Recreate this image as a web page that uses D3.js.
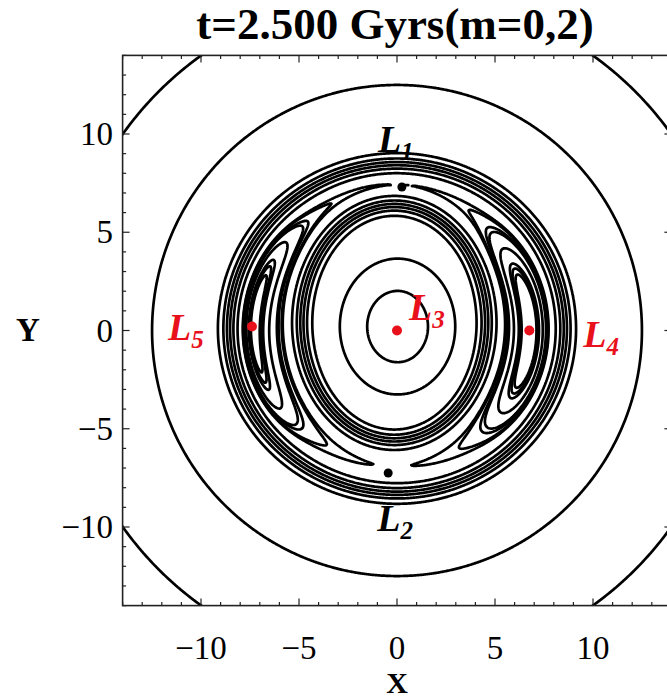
<!DOCTYPE html>
<html>
<head>
<meta charset="utf-8">
<script src="https://cdn.jsdelivr.net/npm/d3@7"></script>
<style>
  body { margin: 0; background: #fff; }
  svg { display: block; }
</style>
</head>
<body>
<svg id="chart" width="667" height="699"></svg>
<script>
// ---- axes ----
const xDomain = [-14, 14];
const yDomain = [-14, 14];
const majorTicks = [-10, -5, 0, 5, 10];
const minorTicks = [-14, -13, -12, -11, -9, -8, -7, -6, -4, -3, -2, -1, 1, 2, 3, 4, 6, 7, 8, 9, 11, 12, 13, 14];
const titleText = "t=2.500 Gyrs(m=0,2)";

// ---- Lagrange points (kpc) ----
const pointNames = ["L1", "L2", "L3", "L4", "L5"];
const pointX = [0.25, -0.45, 0.0, 6.75, -7.4];
const pointY = [7.3, -7.25, 0.0, 0.0, 0.2];

// ---- effective-potential model ----
// central basin: centre x, centre y, axis ratio (y/x), scale^2
const basin = [0.03, 0.2, 1.17, 3.70];
// walls of the corotation ridge: centre x, centre y, semi-axis x, semi-axis y
const innerWall = [-0.14, 0.4, 4.7, 5.95];
const outerWall = [0.0, 0.1, 8.6, 8.4];
const wallWidth = [0.24];
// halo fall-off outside the ridge: start radius, strength
const halo = [9.0, 0.00777];
// m=2 term: amplitude, phase (deg), ring radius, ring width
const barTerm = [0.008, -2, 7.0, 1.5];
// peaks at L4 / L5: amplitude, radial sigma, azimuthal sigma (deg)
const peakTerm = [0.04, 0.62, 35];

// ---- contour levels ----
const basinLevels = [0.478, 0.905];
const wallLevels = [1.1, 1.26, 1.43, 1.6, 1.76, 1.9];
const saddleOffsets = [0.0, 0.004, 0.012];                   // relative to the L1/L2 saddle
const peakOffsets = [-0.006, -0.009, -0.012, -0.024, -0.038]; // relative to the L4/L5 peaks

// ---- layout ----
const width = 667, height = 699;
const sx = d3.scaleLinear().domain(xDomain).range([122.6, 671.4]);
const sy = d3.scaleLinear().domain(yDomain).range([605.6, 55.4]);
const RED = "#e8101a";

const sig = z => 1 / (1 + Math.exp(-z));
function wallDist(w, px, py) {
  const dx = px - w[0], dy = py - w[1];
  const rho = Math.hypot(dx, dy);
  if (rho < 1e-9) return -Math.min(w[2], w[3]);
  const c = dx / rho, s = dy / rho;
  const R = 1 / Math.sqrt((c / w[2]) ** 2 + (s / w[3]) ** 2);
  return rho - R;
}
const peakPolar = [3, 4].map(i => [Math.hypot(pointX[i], pointY[i]), Math.atan2(pointY[i], pointX[i])]);

function potential(px, py) {
  const r = Math.hypot(px, py), th = Math.atan2(py, px);
  const q = (px - basin[0]) ** 2 + ((py - basin[1]) / basin[2]) ** 2;
  let f = 1 - Math.exp(-q / basin[3]);
  if (r > halo[0]) f -= halo[1] * (r - halo[0]) ** 2;
  const w = wallWidth[0];
  const dIn = wallDist(innerWall, px, py);
  const dOut = -wallDist(outerWall, px, py);
  f += sig(dIn / w) * sig(dOut / w) / (sig((dIn + dOut) / (2 * w)) ** 2);
  f += barTerm[0] * Math.cos(2 * (th - barTerm[1] * Math.PI / 180)) *
       Math.exp(-((r - barTerm[2]) ** 2) / (2 * barTerm[3] ** 2));
  const sTh = peakTerm[2] * Math.PI / 180;
  for (const [rc, tc] of peakPolar) {
    let dth = th - tc;
    dth = Math.atan2(Math.sin(dth), Math.cos(dth));
    f += peakTerm[0] * Math.exp(-((r - rc) ** 2) / (2 * peakTerm[1] ** 2)) *
         Math.exp(-0.5 * Math.pow(Math.abs(dth) / sTh, 4));
  }
  return f;
}

// saddle value near L1 and peak value near L4/L5
function ridgeMax(tDeg) {
  const t = tDeg * Math.PI / 180;
  let m = -Infinity;
  for (let rr = 5.5; rr <= 9.5; rr += 0.01) m = Math.max(m, potential(rr * Math.cos(t), rr * Math.sin(t)));
  return m;
}
let saddle = Infinity;
for (let t = 75; t <= 105; t += 0.25) saddle = Math.min(saddle, ridgeMax(t));
function localMax(cx, cy) {
  let m = -Infinity;
  for (let a = cx - 1.5; a <= cx + 1.5; a += 0.02)
    for (let b = cy - 2; b <= cy + 2; b += 0.02) m = Math.max(m, potential(a, b));
  return m;
}
const peak = (localMax(pointX[3], pointY[3]) + localMax(pointX[4], pointY[4])) / 2;

const levels = [...basinLevels, ...wallLevels,
  ...saddleOffsets.map(o => saddle + o),
  ...peakOffsets.map(o => peak + o)].sort((a, b) => a - b);

// ---- sample the field ----
const step = 0.05, g0 = -14.5, g1 = 14.5;
const n = Math.round((g1 - g0) / step) + 1;
const values = new Float64Array(n * n);
for (let j = 0; j < n; j++) {
  const yy = g1 - j * step;
  for (let i = 0; i < n; i++) values[j * n + i] = potential(g0 + i * step, yy);
}
const contours = d3.contours().size([n, n]).thresholds(levels)(values);
const toScreen = d3.geoTransform({
  point(cx, cy) { this.stream.point(sx(g0 + (cx - 0.5) * step), sy(g1 - (cy - 0.5) * step)); }
});
const path = d3.geoPath(toScreen);

// ---- draw ----
const svg = d3.select("#chart");
svg.append("rect").attr("width", width).attr("height", height).attr("fill", "#fff");

const x0 = sx(xDomain[0]), x1 = sx(xDomain[1]), y0 = sy(yDomain[1]), y1 = sy(yDomain[0]);
svg.append("clipPath").attr("id", "plot-clip")
  .append("rect").attr("x", x0).attr("y", y0).attr("width", x1 - x0).attr("height", y1 - y0);

svg.append("g").attr("clip-path", "url(#plot-clip)")
  .selectAll("path").data(contours).join("path")
  .attr("d", path)
  .attr("fill", "none")
  .attr("stroke", "#000")
  .attr("stroke-width", 2.7)
  .attr("stroke-linejoin", "round");

// frame and inward ticks
const frame = svg.append("g").attr("stroke", "#222").attr("fill", "none");
frame.append("rect").attr("x", x0).attr("y", y0).attr("width", x1 - x0).attr("height", y1 - y0)
  .attr("stroke-width", 1.6);
const tickSet = [...majorTicks.map(v => [v, 7]), ...minorTicks.map(v => [v, 3.5])];
for (const [v, len] of tickSet) {
  frame.append("line").attr("x1", sx(v)).attr("x2", sx(v)).attr("y1", y1).attr("y2", y1 - len).attr("stroke-width", 1.2);
  frame.append("line").attr("x1", sx(v)).attr("x2", sx(v)).attr("y1", y0).attr("y2", y0 + len).attr("stroke-width", 1.2);
  frame.append("line").attr("y1", sy(v)).attr("y2", sy(v)).attr("x1", x0).attr("x2", x0 + len).attr("stroke-width", 1.2);
  frame.append("line").attr("y1", sy(v)).attr("y2", sy(v)).attr("x1", x1).attr("x2", x1 - len).attr("stroke-width", 1.2);
}

const fmt = v => (v < 0 ? "\u2212" : "") + Math.abs(v);
const serif = "'Liberation Serif', 'DejaVu Serif', serif";
svg.append("g").selectAll("text").data(majorTicks).join("text")
  .attr("x", d => sx(d)).attr("y", 659)
  .attr("text-anchor", "middle")
  .attr("font-family", serif).attr("font-size", 33)
  .text(fmt);
svg.append("g").selectAll("text").data(majorTicks).join("text")
  .attr("x", 113).attr("y", d => sy(d) + 11)
  .attr("text-anchor", "end")
  .attr("font-family", serif).attr("font-size", 33)
  .text(fmt);

svg.append("text").attr("x", 395).attr("y", 39).attr("text-anchor", "middle")
  .attr("font-family", serif).attr("font-weight", "bold").attr("font-size", 45)
  .text(titleText);
svg.append("text").attr("x", 397).attr("y", 692.5).attr("text-anchor", "middle")
  .attr("font-family", serif).attr("font-weight", "bold").attr("font-size", 30)
  .text("X");
svg.append("text").attr("x", 28).attr("y", 341).attr("text-anchor", "middle")
  .attr("font-family", serif).attr("font-weight", "bold").attr("font-size", 33)
  .text("Y");

// Lagrange markers and labels
const pointColor = { L1: "#000", L2: "#000", L3: RED, L4: RED, L5: RED };
const labelOffset = { L1: [-24, -35], L2: [-11, 58], L3: [12, -11], L4: [54, 16], L5: [-84, 13] };
const pts = pointNames.map((name, i) => ({ name, x: pointX[i], y: pointY[i] }));
svg.append("g").selectAll("circle").data(pts).join("circle")
  .attr("cx", d => sx(d.x)).attr("cy", d => sy(d.y))
  .attr("r", d => d.name === "L1" || d.name === "L2" ? 4.5 : 5)
  .attr("fill", d => pointColor[d.name]);
const lab = svg.append("g").selectAll("text").data(pts).join("text")
  .attr("x", d => sx(d.x) + labelOffset[d.name][0])
  .attr("y", d => sy(d.y) + labelOffset[d.name][1])
  .attr("font-family", serif).attr("font-style", "italic").attr("font-weight", "bold")
  .attr("font-size", 38)
  .attr("fill", d => pointColor[d.name]);
lab.append("tspan").text("L");
lab.append("tspan").attr("dy", 8).attr("font-size", 25).text(d => d.name.slice(1));
</script>
</body>
</html>
